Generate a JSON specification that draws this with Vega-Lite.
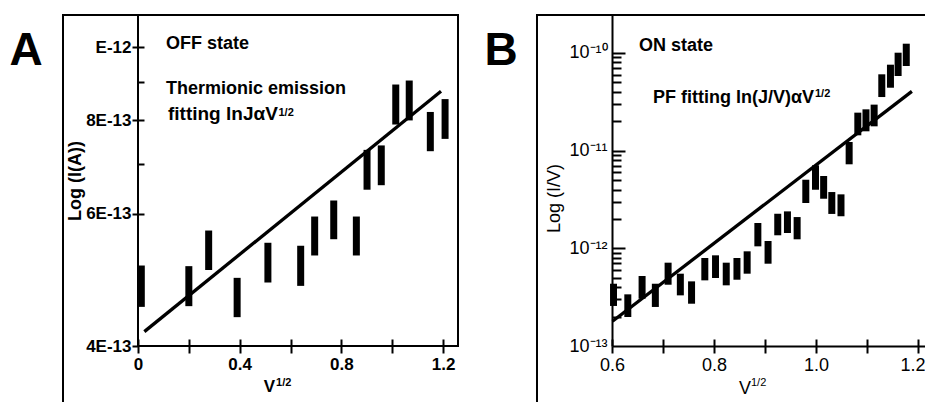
{
  "$schema": "https://vega.github.io/schema/vega-lite/v6.json",
  "padding": {"left": 8, "top": 12, "right": 0, "bottom": 0},
  "spacing": 25,
  "config": {
    "font": "Liberation Sans",
    "view": {"stroke": "black", "strokeWidth": 2},
    "axis": {"grid": false, "domain": false, "tickColor": "black", "labelColor": "black", "titleColor": "black", "labelFont": "Liberation Sans", "titleFont": "Liberation Sans"}
  },
  "datasets": {
    "offBars": [
      {"x": 0.013, "y": 4.51e-13, "y2": 5.12e-13},
      {"x": 0.200, "y": 4.52e-13, "y2": 5.11e-13},
      {"x": 0.278, "y": 5.05e-13, "y2": 5.70e-13},
      {"x": 0.390, "y": 4.37e-13, "y2": 4.93e-13},
      {"x": 0.511, "y": 4.86e-13, "y2": 5.49e-13},
      {"x": 0.640, "y": 4.81e-13, "y2": 5.44e-13},
      {"x": 0.695, "y": 5.28e-13, "y2": 5.95e-13},
      {"x": 0.770, "y": 5.55e-13, "y2": 6.25e-13},
      {"x": 0.859, "y": 5.28e-13, "y2": 5.95e-13},
      {"x": 0.901, "y": 6.46e-13, "y2": 7.30e-13},
      {"x": 0.957, "y": 6.55e-13, "y2": 7.40e-13},
      {"x": 1.014, "y": 7.89e-13, "y2": 8.92e-13},
      {"x": 1.067, "y": 7.99e-13, "y2": 9.03e-13},
      {"x": 1.150, "y": 7.27e-13, "y2": 8.20e-13},
      {"x": 1.208, "y": 7.55e-13, "y2": 8.53e-13}
    ],
    "offFit": [
      {"x": 0.025, "y": 4.18e-13},
      {"x": 1.192, "y": 8.74e-13}
    ],
    "frameA": [
      {"x": -0.29504, "x2": -0.29504, "y": 1.104e-12, "y2": 3.369e-13},
      {"x": -0.29504, "x2": 0, "y": 1.104e-12, "y2": 1.104e-12}
    ],
    "onBars": [
      {"x": 0.603, "y": 2.57e-13, "y2": 4.34e-13},
      {"x": 0.631, "y": 1.98e-13, "y2": 3.38e-13},
      {"x": 0.659, "y": 3.05e-13, "y2": 5.21e-13},
      {"x": 0.685, "y": 2.51e-13, "y2": 4.34e-13},
      {"x": 0.710, "y": 4.24e-13, "y2": 7.13e-13},
      {"x": 0.734, "y": 3.30e-13, "y2": 5.50e-13},
      {"x": 0.756, "y": 2.71e-13, "y2": 4.59e-13},
      {"x": 0.782, "y": 4.70e-13, "y2": 7.96e-13},
      {"x": 0.803, "y": 4.97e-13, "y2": 8.48e-13},
      {"x": 0.824, "y": 4.18e-13, "y2": 7.13e-13},
      {"x": 0.845, "y": 4.77e-13, "y2": 7.96e-13},
      {"x": 0.865, "y": 5.50e-13, "y2": 9.32e-13},
      {"x": 0.886, "y": 1.048e-12, "y2": 1.816e-12},
      {"x": 0.906, "y": 6.96e-13, "y2": 1.189e-12},
      {"x": 0.925, "y": 1.36e-12, "y2": 2.26e-12},
      {"x": 0.944, "y": 1.435e-12, "y2": 2.39e-12},
      {"x": 0.963, "y": 1.237e-12, "y2": 2.09e-12},
      {"x": 0.980, "y": 2.91e-12, "y2": 5.04e-12},
      {"x": 0.999, "y": 3.98e-12, "y2": 7.08e-12},
      {"x": 1.015, "y": 3.22e-12, "y2": 5.50e-12},
      {"x": 1.031, "y": 2.25e-12, "y2": 3.77e-12},
      {"x": 1.049, "y": 2.13e-12, "y2": 3.57e-12},
      {"x": 1.065, "y": 7.25e-12, "y2": 1.227e-11},
      {"x": 1.082, "y": 1.436e-11, "y2": 2.45e-11},
      {"x": 1.098, "y": 1.578e-11, "y2": 2.65e-11},
      {"x": 1.114, "y": 1.775e-11, "y2": 2.96e-11},
      {"x": 1.129, "y": 3.54e-11, "y2": 6.05e-11},
      {"x": 1.146, "y": 4.41e-11, "y2": 7.59e-11},
      {"x": 1.161, "y": 5.81e-11, "y2": 1.007e-10},
      {"x": 1.177, "y": 7.36e-11, "y2": 1.245e-10}
    ],
    "onFit": [
      {"x": 0.601, "y": 1.79e-13},
      {"x": 1.188, "y": 4.05e-11}
    ],
    "frameB": [
      {"x": 0.45294, "x2": 0.45294, "y": 2.449e-10, "y2": 2.67e-14},
      {"x": 0.45294, "x2": 1.21373, "y": 2.449e-10, "y2": 2.449e-10}
    ]
  },
  "hconcat": [
    {
      "width": 320,
      "height": 331,
      "resolve": {"axis": {"x": "independent", "y": "independent"}},
      "encoding": {
        "x": {"field": "x", "type": "quantitative", "scale": {"domain": [0, 1.25885], "nice": false, "zero": false}, "axis": null},
        "y": {"field": "y", "type": "quantitative", "scale": {"type": "log", "domain": [4e-13, 1.104e-12], "nice": false}, "axis": null}
      },
      "layer": [
        {
          "data": {"name": "offBars"},
          "mark": {"type": "rule", "strokeWidth": 7, "strokeCap": "butt", "color": "black"},
          "encoding": {
            "x": {"field": "x", "type": "quantitative", "scale": {"domain": [0, 1.25885], "nice": false, "zero": false},
              "axis": {"orient": "bottom", "values": [0, 0.2, 0.4, 0.6, 0.8, 1.0, 1.2],
                "labelExpr": "datum.value < 0.1 ? '0' : ((abs(datum.value-0.4)<0.01 || abs(datum.value-0.8)<0.01 || abs(datum.value-1.2)<0.01) ? format(datum.value,'.1f') : '')",
                "labelOverlap": false, "labelFlush": false, "tickSize": 7, "tickWidth": 2,
                "labelFontSize": 17, "labelFontWeight": "bold", "labelPadding": 3, "title": null}},
            "y": {"field": "y", "type": "quantitative", "scale": {"type": "log", "domain": [4e-13, 1.104e-12], "nice": false},
              "axis": {"orient": "left", "values": [4e-13, 6e-13, 8e-13, 1e-12],
                "labelExpr": "datum.value < 5e-13 ? '4E-13' : (datum.value < 7e-13 ? '6E-13' : (datum.value < 9e-13 ? '8E-13' : 'E-12'))",
                "labelOverlap": false, "labelFlush": false, "tickSize": 6, "tickWidth": 2,
                "labelFontSize": 17, "labelFontWeight": "bold", "labelPadding": 1,
                "title": "Log (I(A))", "titleFontSize": 18, "titleFontWeight": "bold", "titlePadding": 1}},
            "y2": {"field": "y2"}
          }
        },
        {
          "data": {"name": "offFit"},
          "mark": {"type": "line", "strokeWidth": 3.3, "color": "black"},
          "encoding": {
            "x": {"field": "x", "type": "quantitative", "scale": {"domain": [0, 1.25885], "nice": false, "zero": false},
              "axis": {"orient": "bottom", "values": [0, 0.2, 0.4, 0.6, 0.8, 1.0, 1.2], "labels": false, "tickSize": 7, "offset": -7, "tickWidth": 2, "title": null}},
            "y": {"field": "y", "type": "quantitative", "scale": {"type": "log", "domain": [4e-13, 1.104e-12], "nice": false},
              "axis": {"orient": "left", "values": [6e-13, 7e-13, 8e-13, 9e-13, 1e-12], "labels": false, "tickSize": 6, "offset": -6, "tickWidth": 2, "title": null}}
          }
        },
        {
          "data": {"name": "frameA"},
          "mark": {"type": "rule", "strokeWidth": 2, "strokeCap": "square", "color": "black"},
          "encoding": {"x2": {"field": "x2"}, "y2": {"field": "y2"}}
        },
        {
          "data": {"values": [{"x": -0.4406, "y": 9.47e-13, "t": "A"}]},
          "mark": {"type": "text", "font": "Liberation Sans", "fontSize": 46, "fontWeight": "bold", "align": "center", "baseline": "alphabetic", "color": "black"},
          "encoding": {"text": {"field": "t"}}
        },
        {
          "data": {"values": [
            {"x": 0.110, "y": 9.94e-13, "t": "OFF state"},
            {"x": 0.110, "y": 8.67e-13, "t": "Thermionic emission"}
          ]},
          "mark": {"type": "text", "font": "Liberation Sans", "fontSize": 18, "fontWeight": "bold", "align": "left", "baseline": "alphabetic", "color": "black"},
          "encoding": {"text": {"field": "t"}}
        },
        {
          "data": {"values": [
            {"x": 0.5500, "y": 7.99e-13, "t": "fitting lnJαV"}
          ]},
          "mark": {"type": "text", "font": "Liberation Sans", "fontSize": 19, "fontWeight": "bold", "align": "right", "baseline": "alphabetic", "color": "black"},
          "encoding": {"text": {"field": "t"}}
        },
        {
          "data": {"values": [
            {"x": 0.5527, "y": 8.09e-13, "t": "1/2"},
            {"x": 0.543, "y": 3.533e-13, "t": "1/2"}
          ]},
          "mark": {"type": "text", "font": "Liberation Sans", "fontSize": 11, "fontWeight": "bold", "align": "left", "baseline": "alphabetic", "color": "black"},
          "encoding": {"text": {"field": "t"}}
        },
        {
          "data": {"values": [{"x": 0.5166, "y": 3.474e-13, "t": "V"}]},
          "mark": {"type": "text", "font": "Liberation Sans", "fontSize": 17, "fontWeight": "bold", "align": "center", "baseline": "alphabetic", "color": "black"},
          "encoding": {"text": {"field": "t"}}
        }
      ]
    },
    {
      "width": 313,
      "height": 331,
      "view": {"stroke": null},
      "resolve": {"axis": {"x": "independent", "y": "independent"}},
      "encoding": {
        "x": {"field": "x", "type": "quantitative", "scale": {"domain": [0.6, 1.21373], "nice": false, "zero": false}, "axis": null},
        "y": {"field": "y", "type": "quantitative", "scale": {"type": "log", "domain": [1e-13, 2.449e-10], "nice": false}, "axis": null}
      },
      "layer": [
        {
          "data": {"name": "onBars"},
          "mark": {"type": "rule", "strokeWidth": 7, "strokeCap": "butt", "color": "black"},
          "encoding": {
            "x": {"field": "x", "type": "quantitative", "scale": {"domain": [0.6, 1.21373], "nice": false, "zero": false},
              "axis": {"orient": "bottom", "values": [0.6, 0.7, 0.8, 0.9, 1.0, 1.1, 1.2],
                "labelExpr": "(abs(datum.value-0.6)<0.01 || abs(datum.value-0.8)<0.01 || abs(datum.value-1.0)<0.01 || abs(datum.value-1.2)<0.01) ? format(datum.value,'.1f') : ''",
                "labelOverlap": false, "labelFlush": false, "tickSize": 7, "tickWidth": 2,
                "domain": true, "domainColor": "black", "domainWidth": 2,
                "labelAlign": {"condition": {"test": "datum.value > 1.15", "value": "right"}, "value": "center"},
                "labelOffset": {"condition": {"test": "datum.value > 1.15", "value": 7}, "value": 0},
                "labelFontSize": 18, "labelPadding": 3, "title": null}},
            "y": {"field": "y", "type": "quantitative", "scale": {"type": "log", "domain": [1e-13, 2.449e-10], "nice": false},
              "axis": {"orient": "left", "values": [1e-13, 1e-12, 1e-11, 1e-10],
                "labelExpr": "datum.value < 5e-13 ? '10⁻¹³' : (datum.value < 5e-12 ? '10⁻¹²' : (datum.value < 5e-11 ? '10⁻¹¹' : '10⁻¹⁰'))",
                "labelOverlap": false, "labelFlush": false, "ticks": false,
                "domain": true, "domainColor": "black", "domainWidth": 2,
                "labelFontSize": 18, "labelPadding": 5,
                "title": "Log (I/V)", "titleFontSize": 18, "titleFontWeight": "normal", "titlePadding": 5, "titleY": 183}},
            "y2": {"field": "y2"}
          }
        },
        {
          "data": {"name": "onFit"},
          "mark": {"type": "line", "strokeWidth": 3.3, "color": "black"},
          "encoding": {
            "x": {"field": "x", "type": "quantitative", "scale": {"domain": [0.6, 1.21373], "nice": false, "zero": false},
              "axis": {"orient": "bottom", "values": [0.6, 0.7, 0.8, 0.9, 1.0, 1.1, 1.2], "labels": false, "tickSize": 7, "offset": -7, "tickWidth": 2, "title": null}},
            "y": {"field": "y", "type": "quantitative", "scale": {"type": "log", "domain": [1e-13, 2.449e-10], "nice": false},
              "axis": {"orient": "left", "values": [1e-12, 1e-11, 1e-10], "labels": false, "tickSize": 13, "offset": -13, "tickWidth": 2, "title": null}}
          }
        },
        {
          "data": {"name": "frameB"},
          "mark": {"type": "rule", "strokeWidth": 2, "strokeCap": "square", "color": "black"},
          "encoding": {
            "y": {"field": "y", "type": "quantitative", "scale": {"type": "log", "domain": [1e-13, 2.449e-10], "nice": false},
              "axis": {"orient": "left", "values": [2e-13, 3e-13, 4e-13, 5e-13, 6e-13, 7e-13, 8e-13, 9e-13, 2e-12, 3e-12, 4e-12, 5e-12, 6e-12, 7e-12, 8e-12, 9e-12, 2e-11, 3e-11, 4e-11, 5e-11, 6e-11, 7e-11, 8e-11, 9e-11], "labels": false, "tickSize": 9, "offset": -9, "tickWidth": 2, "title": null}},
            "x2": {"field": "x2"},
            "y2": {"field": "y2"}
          }
        },
        {
          "data": {"values": [{"x": 0.3824, "y": 7.59e-11, "t": "B"}]},
          "mark": {"type": "text", "font": "Liberation Sans", "fontSize": 46, "fontWeight": "bold", "align": "center", "baseline": "alphabetic", "color": "black"},
          "encoding": {"text": {"field": "t"}}
        },
        {
          "data": {"values": [
            {"x": 0.653, "y": 1.048e-10, "t": "ON state"}
          ]},
          "mark": {"type": "text", "font": "Liberation Sans", "fontSize": 18, "fontWeight": "bold", "align": "left", "baseline": "alphabetic", "color": "black"},
          "encoding": {"text": {"field": "t"}}
        },
        {
          "data": {"values": [
            {"x": 0.9962, "y": 3.04e-11, "t": "PF fitting ln(J/V)αV"}
          ]},
          "mark": {"type": "text", "font": "Liberation Sans", "fontSize": 18, "fontWeight": "bold", "align": "right", "baseline": "alphabetic", "color": "black"},
          "encoding": {"text": {"field": "t"}}
        },
        {
          "data": {"values": [{"x": 0.998, "y": 3.54e-11, "t": "1/2"}]},
          "mark": {"type": "text", "font": "Liberation Sans", "fontSize": 11, "fontWeight": "bold", "align": "left", "baseline": "alphabetic", "color": "black"},
          "encoding": {"text": {"field": "t"}}
        },
        {
          "data": {"values": [{"x": 0.8725, "y": 3.9e-14, "t": "1/2"}]},
          "mark": {"type": "text", "font": "Liberation Sans", "fontSize": 11, "align": "left", "baseline": "alphabetic", "color": "black"},
          "encoding": {"text": {"field": "t"}}
        },
        {
          "data": {"values": [{"x": 0.861, "y": 3.25e-14, "t": "V"}]},
          "mark": {"type": "text", "font": "Liberation Sans", "fontSize": 18, "align": "center", "baseline": "alphabetic", "color": "black"},
          "encoding": {"text": {"field": "t"}}
        }
      ]
    }
  ]
}
